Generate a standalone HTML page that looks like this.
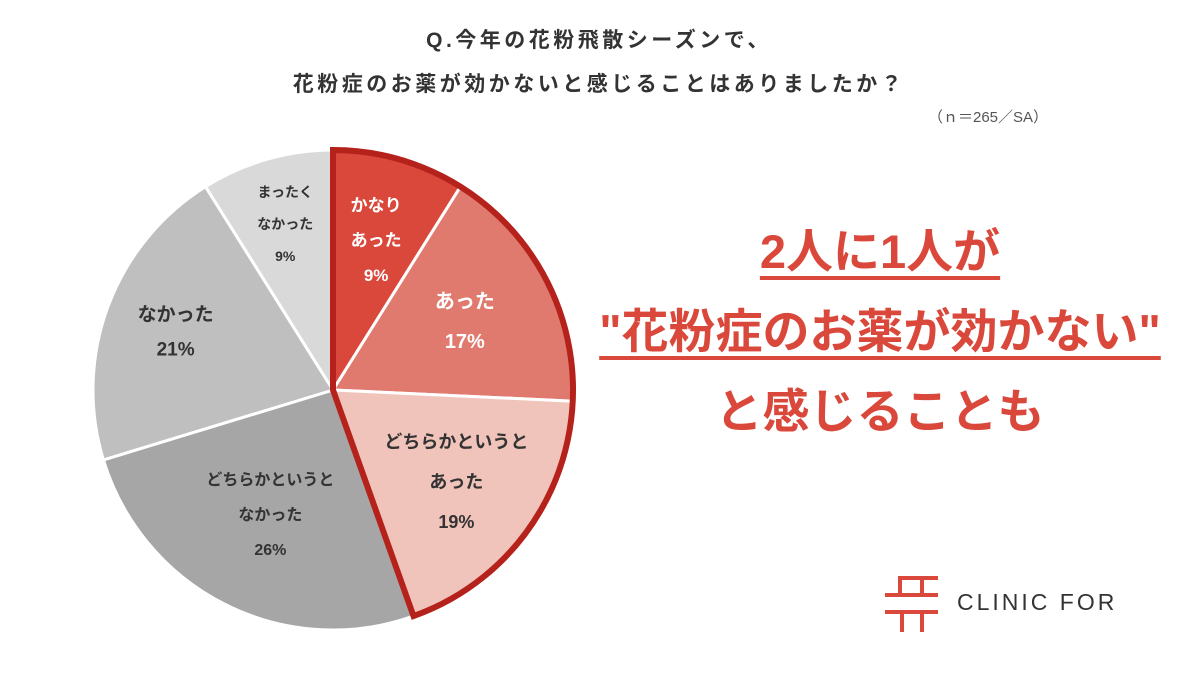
<!DOCTYPE html>
<html><head><meta charset="utf-8"><style>
body{margin:0;width:1198px;height:698px;background:#fff;font-family:"Liberation Sans","Noto Sans CJK JP",sans-serif;overflow:hidden;position:relative}
.t{position:absolute;white-space:nowrap}
</style></head><body>
<div class="t" style="left:0;width:1198px;top:19px;text-align:center;font-size:21px;letter-spacing:3.5px;font-weight:bold;color:#333;line-height:44px">Q.今年の花粉飛散シーズンで、<br>花粉症のお薬が効かないと感じることはありましたか？</div>
<div class="t" style="left:928px;top:106px;font-size:15px;color:#555">（ｎ＝265／SA）</div>
<svg id="pie" width="1198" height="698" style="position:absolute;left:0;top:0"></svg>
<div class="t" style="left:580px;width:600px;top:212px;text-align:center;font-size:47px;font-weight:bold;color:#D9483B;line-height:80px"><span style="text-decoration:underline;text-underline-offset:8px">2人に1人が</span><br><span style="text-decoration:underline;text-underline-offset:8px">"花粉症のお薬が効かない"</span><br>と感じることも</div>
<svg width="70" height="70" style="position:absolute;left:880px;top:570px" stroke="#D9483B" stroke-width="4" fill="none">
<path d="M20 24 V8 H58 M42 8 V24 M5 25 H58 M5 42 H58 M22 42 V62 M42 42 V62"/></svg>
<div class="t" style="left:957px;top:589px;font-size:23px;letter-spacing:3px;color:#333">CLINIC FOR</div>
<script>
const categories=["かなりあった","あった","どちらかというとあった","どちらかというとなかった","なかった","まったくなかった"];
const values=[9,17,19,26,21,9];
const colors=["#D9483B","#E07A6E","#F0C4BA","#A6A6A6","#BFBFBF","#D9D9D9"];
const labels=[["かなり","あった","9%"],["あった","17%"],["どちらかというと","あった","19%"],["どちらかというと","なかった","26%"],["なかった","21%"],["まったく","なかった","9%"]];
const highlightCount=3;
const cx=333,cy=390,R=240;
const svg=document.getElementById('pie');const NS="http://www.w3.org/2000/svg";
const total=values.reduce((a,b)=>a+b,0);
function pt(a,r){return [cx+r*Math.sin(a),cy-r*Math.cos(a)];}
const styles=[{fs:17,c:"#fff",rr:0.65,lh:35},{fs:20,c:"#fff",rr:0.62,lh:40},{fs:18,c:"#333",rr:0.64,lh:40},{fs:16,c:"#333",rr:0.58,lh:35},{fs:19,c:"#333",rr:0.7,lh:35},{fs:14,c:"#333",rr:0.72,lh:32}];
let a=0;const angles=[];
values.forEach((v,i)=>{const a1=a+v/total*2*Math.PI;angles.push([a,a1]);
 const p0=pt(a,R),p1=pt(a1,R);const lg=(a1-a)>Math.PI?1:0;
 const p=document.createElementNS(NS,'path');
 p.setAttribute('d',`M${cx},${cy} L${p0[0]},${p0[1]} A${R},${R} 0 ${lg} 1 ${p1[0]},${p1[1]} Z`);
 p.setAttribute('fill',colors[i]);p.setAttribute('stroke','#fff');p.setAttribute('stroke-width','3');
 
 
 svg.appendChild(p);a=a1;});
{const s=angles[0][0],e=angles[highlightCount-1][1];const p0=pt(s,R),p1=pt(e,R);
 const o=document.createElementNS(NS,'path');
 o.setAttribute('d',`M${cx},${cy} L${p0[0]},${p0[1]} A${R},${R} 0 ${(e-s)>Math.PI?1:0} 1 ${p1[0]},${p1[1]} Z`);
 o.setAttribute('fill','none');o.setAttribute('stroke','#B5221B');o.setAttribute('stroke-width','6');o.setAttribute('stroke-linejoin','miter');
 
 
 svg.appendChild(o);}
labels.forEach((ls,i)=>{const m=(angles[i][0]+angles[i][1])/2;const st=styles[i];const c=pt(m,R*st.rr);
 const lh=st.lh;const y0=c[1]-(ls.length-1)*lh/2;
 const t=document.createElementNS(NS,'text');t.setAttribute('text-anchor','middle');t.setAttribute('font-size',st.fs);t.setAttribute('font-weight','bold');t.setAttribute('fill',st.c);
 
 
 ls.forEach((l,j)=>{const s=document.createElementNS(NS,'tspan');s.setAttribute('x',c[0]);s.setAttribute('y',y0+j*lh+st.fs*0.36);s.textContent=l;t.appendChild(s);});
 svg.appendChild(t);});
</script>
</body></html>
